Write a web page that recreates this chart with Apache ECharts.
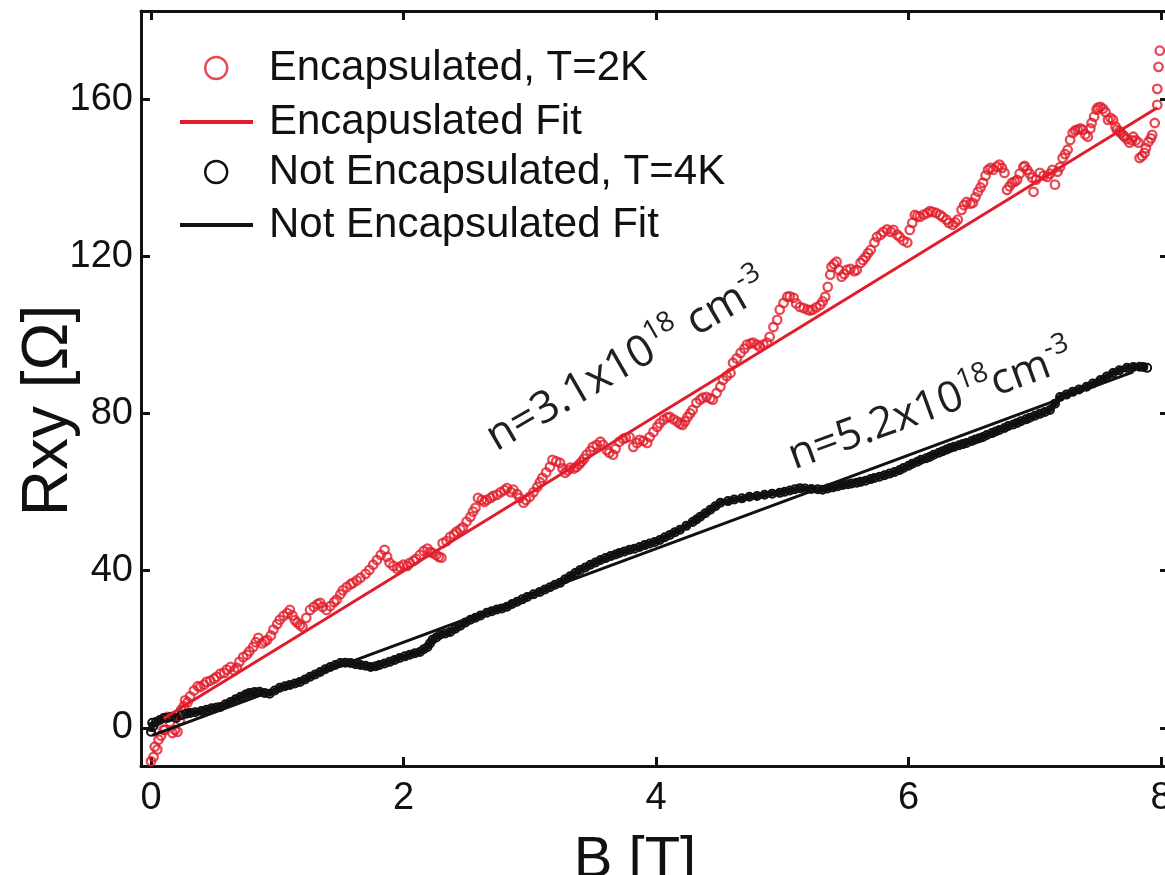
<!DOCTYPE html>
<html><head><meta charset="utf-8">
<script src="https://cdn.jsdelivr.net/npm/echarts@6/dist/echarts.min.js"></script>
<style>html,body{margin:0;padding:0;background:#fff}#c{width:1165px;height:875px}</style>
</head><body><div id="c"></div>
<script>
// ---- data ----
const xTicks = [0, 2, 4, 6, 8];
const yTicks = [0, 40, 80, 120, 160];

const redB = [0.00,0.02,0.03,0.05,0.06,0.08,0.10,0.11,0.13,0.15,0.17,0.19,0.21,0.23,0.24,0.26,0.27,0.29,0.31,0.34,
0.37,0.39,0.42,0.44,0.47,0.50,0.52,0.55,0.58,0.60,0.63,0.66,0.68,0.70,0.73,0.76,0.78,0.81,0.83,0.85,
0.88,0.90,0.92,0.95,0.97,1.00,1.02,1.05,1.08,1.10,1.12,1.14,1.16,1.18,1.20,1.23,1.26,1.29,1.32,1.34,
1.36,1.39,1.42,1.45,1.47,1.50,1.52,1.55,1.58,1.60,1.63,1.66,1.70,1.73,1.76,1.79,1.82,1.85,1.87,1.89,
1.92,1.95,1.97,2.00,2.03,2.05,2.08,2.10,2.13,2.16,2.19,2.21,2.23,2.26,2.28,2.30,2.31,2.34,2.37,2.40,
2.42,2.45,2.47,2.50,2.53,2.55,2.57,2.59,2.62,2.64,2.66,2.69,2.71,2.74,2.77,2.80,2.82,2.85,2.87,2.90,
2.92,2.95,2.97,3.00,3.03,3.06,3.08,3.10,3.13,3.16,3.18,3.21,3.24,3.26,3.28,3.30,3.32,3.35,3.37,3.39,
3.41,3.43,3.45,3.48,3.50,3.53,3.56,3.58,3.61,3.63,3.66,3.68,3.71,3.74,3.76,3.79,3.82,3.85,3.87,3.90,
3.93,3.95,3.98,4.01,4.03,4.06,4.09,4.11,4.14,4.17,4.19,4.21,4.23,4.25,4.27,4.29,4.32,4.35,4.37,4.40,
4.43,4.45,4.48,4.51,4.53,4.56,4.59,4.61,4.64,4.67,4.70,4.72,4.75,4.77,4.80,4.82,4.85,4.88,4.90,4.93,
4.96,4.98,5.01,5.04,5.06,5.09,5.11,5.14,5.17,5.20,5.22,5.24,5.27,5.30,5.32,5.34,5.36,5.38,5.39,5.41,
5.43,5.45,5.47,5.49,5.51,5.54,5.57,5.59,5.62,5.64,5.66,5.68,5.70,5.73,5.75,5.78,5.80,5.83,5.86,5.88,
5.91,5.93,5.96,5.99,6.01,6.03,6.05,6.07,6.09,6.12,6.15,6.17,6.19,6.22,6.25,6.27,6.30,6.32,6.35,6.37,
6.39,6.42,6.44,6.46,6.49,6.51,6.53,6.55,6.57,6.59,6.61,6.63,6.65,6.67,6.70,6.72,6.74,6.76,6.78,6.80,
6.82,6.84,6.86,6.88,6.91,6.92,6.94,6.96,6.98,6.99,7.01,7.04,7.07,7.10,7.12,7.14,7.16,7.18,7.20,7.22,
7.24,7.26,7.28,7.30,7.32,7.34,7.36,7.38,7.40,7.42,7.44,7.45,7.47,7.49,7.50,7.52,7.54,7.56,7.58,7.60,
7.62,7.64,7.65,7.67,7.68,7.70,7.71,7.73,7.75,7.77,7.78,7.80,7.82,7.83,7.85,7.87,7.88,7.90,7.92,7.93,
7.95,7.97,7.97,7.98,7.99];
const redR = [-8.5,-7.4,-4.8,-5.5,-3.0,-2.0,-0.5,-0.5,2.8,1.5,-1.3,-0.5,-1.0,2.0,4.6,5.5,7.0,6.5,8.0,9.5,
10.6,10.4,11.0,11.7,12.0,12.5,13.0,13.8,14.0,14.8,15.5,14.6,15.3,16.8,18.0,18.6,19.5,20.6,21.8,22.9,
21.5,22.0,22.4,23.5,25.0,26.4,27.5,28.5,29.2,30.0,28.6,27.4,26.7,26.2,25.7,28.0,30.0,30.8,31.5,31.8,
30.8,30.0,31.0,32.0,32.6,34.0,35.0,35.8,36.5,36.9,37.5,38.2,39.2,40.2,41.5,42.7,44.0,45.3,43.5,42.0,
41.2,40.5,41.0,41.5,41.2,42.0,42.5,43.0,44.0,45.0,45.6,44.8,44.5,44.0,43.5,43.3,47.0,47.5,48.6,49.2,
49.9,50.5,51.0,52.5,53.7,55.0,56.0,58.5,58.0,57.5,58.0,58.5,59.0,59.3,60.0,60.5,61.0,60.0,60.6,59.5,
58.5,57.3,58.0,58.8,60.0,61.3,62.5,63.6,65.0,66.4,68.2,67.8,67.4,66.0,64.9,65.5,66.2,66.0,66.4,67.0,
67.7,68.5,69.5,70.5,71.5,72.0,72.8,72.0,70.7,70.0,69.5,71.0,72.8,73.5,73.8,74.0,71.5,72.5,73.3,73.0,
72.5,74.0,75.3,76.6,77.5,78.4,79.0,79.1,78.5,77.9,77.4,77.1,78.0,79.1,80.0,80.9,82.7,83.5,84.0,84.2,
83.8,83.5,85.2,86.8,88.5,89.5,90.3,92.9,94.0,95.4,96.5,97.5,97.8,98.0,97.5,97.0,97.5,98.0,99.5,102.0,
103.8,106.4,108.1,109.7,109.8,109.4,108.0,107.1,106.8,106.4,106.2,106.4,107.0,107.6,108.5,109.7,112.2,115.3,117.3,118.0,
118.6,116.5,114.8,115.5,116.5,116.8,116.2,116.5,118.3,119.0,119.8,120.8,121.6,123.5,124.9,125.5,126.2,126.8,126.2,126.7,
125.5,124.9,124.0,123.5,126.7,128.5,130.5,130.2,130.0,130.6,131.0,131.5,131.3,131.0,130.5,130.0,129.3,128.5,128.0,128.6,
129.3,131.8,133.0,133.8,133.4,133.6,135.0,136.4,137.5,138.7,140.5,142.0,142.5,142.0,142.8,143.3,142.5,141.2,136.9,137.8,
138.7,139.0,139.4,141.0,142.7,143.0,142.0,141.0,140.0,136.4,139.5,141.2,140.5,140.2,141.0,142.0,138.2,141.5,142.7,145.0,
146.0,147.1,149.6,151.4,152.0,152.2,152.5,152.2,151.0,150.4,152.5,153.9,155.5,157.3,157.8,158.0,157.5,156.7,154.7,155.2,
154.7,153.0,152.2,151.8,151.4,150.8,150.4,149.8,148.9,149.5,150.4,149.5,148.9,145.0,145.5,146.3,147.5,149.1,150.0,150.9,
153.9,158.5,162.6,168.2,172.3];

const blackB = [0.00,0.01,0.02,0.04,0.07,0.10,0.13,0.16,0.20,0.24,0.28,0.31,0.35,0.40,0.44,0.48,0.52,0.55,0.59,0.63,
0.67,0.71,0.75,0.78,0.82,0.86,0.90,0.94,0.98,1.02,1.06,1.10,1.14,1.18,1.22,1.26,1.30,1.34,1.38,1.42,
1.46,1.50,1.54,1.58,1.62,1.66,1.70,1.74,1.78,1.81,1.85,1.89,1.93,1.97,2.01,2.05,2.09,2.13,2.16,2.19,
2.21,2.23,2.26,2.29,2.33,2.37,2.41,2.45,2.49,2.53,2.57,2.61,2.66,2.70,2.74,2.78,2.82,2.86,2.90,2.94,
2.98,3.03,3.08,3.12,3.16,3.20,3.24,3.28,3.32,3.36,3.40,3.44,3.48,3.52,3.56,3.60,3.64,3.68,3.71,3.75,
3.79,3.83,3.87,3.91,3.95,3.99,4.03,4.07,4.11,4.15,4.19,4.24,4.29,4.32,4.35,4.39,4.43,4.47,4.51,4.57,
4.62,4.68,4.74,4.80,4.86,4.92,4.98,5.02,5.06,5.10,5.14,5.18,5.23,5.28,5.32,5.36,5.40,5.44,5.48,5.52,
5.55,5.59,5.62,5.66,5.70,5.73,5.77,5.81,5.85,5.89,5.93,5.96,6.00,6.03,6.07,6.10,6.14,6.17,6.20,6.24,
6.27,6.30,6.33,6.36,6.40,6.43,6.46,6.50,6.53,6.56,6.59,6.62,6.66,6.69,6.72,6.76,6.79,6.83,6.86,6.89,
6.93,6.96,7.00,7.04,7.08,7.12,7.16,7.20,7.25,7.30,7.35,7.41,7.46,7.52,7.57,7.62,7.67,7.73,7.78,7.83,
7.86,7.89];
const blackR = [-1.0,1.3,0.5,1.5,2.0,2.5,2.5,2.8,2.5,3.2,3.6,3.8,4.0,4.3,4.6,5.0,5.2,5.3,6.0,6.6,
7.3,7.9,8.5,8.9,9.1,9.2,8.9,8.7,9.5,10.2,10.6,10.9,11.3,11.7,12.3,13.0,13.6,14.2,14.9,15.5,
16.0,16.5,16.6,16.5,16.2,16.0,15.8,15.5,15.7,16.0,16.4,16.8,17.3,17.8,18.2,18.6,19.0,19.3,20.0,20.6,
21.5,22.4,23.0,23.7,24.0,24.4,25.2,26.0,26.8,27.5,28.0,28.6,29.3,29.7,30.1,30.4,30.8,31.5,32.1,32.7,
33.3,34.0,34.6,35.2,35.8,36.4,36.9,37.8,38.6,39.4,40.2,40.8,41.5,42.1,42.7,43.2,43.7,44.1,44.5,44.9,
45.3,45.6,46.0,46.5,46.9,47.3,47.8,48.5,49.1,49.8,50.4,51.4,52.4,53.0,53.7,54.6,55.5,56.4,57.3,57.7,
58.1,58.4,58.8,59.0,59.3,59.6,59.8,60.1,60.4,60.7,61.0,60.9,60.8,60.7,60.6,60.9,61.2,61.5,61.8,62.0,
62.2,62.4,62.6,62.9,63.3,63.6,63.9,64.3,64.7,65.1,65.6,66.1,66.7,67.2,67.7,68.2,68.6,69.0,69.5,70.0,
70.4,70.8,71.2,71.5,71.9,72.2,72.5,73.0,73.4,73.7,74.0,74.5,75.0,75.4,75.8,76.3,76.8,77.2,77.6,78.0,
78.5,78.9,79.4,79.9,80.4,80.9,82.5,84.2,84.8,85.5,86.1,86.8,87.6,88.5,89.4,90.3,91.0,91.6,91.8,91.9,
91.8,91.6];

const redFitB = [0.10, 7.97];
const redFitR = [2.4, 157.8];
const blackFitB = [0.01, 7.78];
const blackFitR = [-1.9, 90.6];

const names = ['Encapsulated, T=2K', 'Encapuslated Fit', 'Not Encapsulated, T=4K', 'Not Encapsulated Fit'];

// ---- styles ----
const RED = '#e11d2b';
const BLK = '#111111';
const FONT = 'Liberation Sans';
const pairs = (xs, ys) => xs.map((x, i) => [x, ys[i]]);

const chart = echarts.init(document.getElementById('c'), null, {renderer: 'canvas'});

const axisLineStyle = {color: BLK, width: 3};
const tickStyle = {color: BLK, width: 3};

function legendFor(name, left, cy, icon, h, itemStyle) {
  return {
    data: [{name: name, icon: icon}],
    left: left, top: cy - 25, padding: 0,
    itemWidth: 73, itemHeight: h,
    itemStyle: itemStyle,
    selectedMode: false,
    textStyle: {fontSize: 42, fontFamily: FONT, color: BLK, lineHeight: 50, padding: [0, 0, 0, 11]}
  };
}

const option = {
  animation: false,
  backgroundColor: '#fff',
  grid: {left: 141, top: 11, width: 1028, height: 755, containLabel: false, outerBoundsMode: 'none'},
  legend: [
    legendFor(names[0], 204, 68, 'circle', 22, {color: 'rgba(0,0,0,0)', borderColor: RED, borderWidth: 2.4}),
    legendFor(names[1], 180, 122, 'rect', 4, {color: RED, borderWidth: 0}),
    legendFor(names[2], 204, 172, 'circle', 22, {color: 'rgba(0,0,0,0)', borderColor: BLK, borderWidth: 2.4}),
    legendFor(names[3], 180, 225, 'rect', 4, {color: BLK, borderWidth: 0})
  ],
  xAxis: [{
    type: 'value', position: 'bottom', min: -0.079, max: 8.063,
    axisLine: {onZero: false, lineStyle: axisLineStyle},
    axisTick: {inside: true, length: 9, lineStyle: tickStyle, customValues: xTicks},
    axisLabel: {customValues: xTicks, fontSize: 38, fontFamily: FONT, color: BLK, margin: 14},
    splitLine: {show: false},
    name: 'B [T]', nameLocation: 'middle', nameGap: 66, nameMoveOverlap: false,
    nameTextStyle: {fontSize: 58, fontFamily: FONT, color: BLK, padding: [0, 40, 0, 0]}
  }, {
    type: 'value', position: 'top', min: -0.079, max: 8.063,
    axisLine: {onZero: false, lineStyle: axisLineStyle},
    axisTick: {inside: true, length: 9, lineStyle: tickStyle, customValues: xTicks},
    axisLabel: {show: false}, splitLine: {show: false}
  }],
  yAxis: [{
    type: 'value', position: 'left', min: -9.7, max: 182.4,
    axisLine: {onZero: false, lineStyle: axisLineStyle},
    axisTick: {inside: true, length: 9, lineStyle: tickStyle, customValues: yTicks},
    axisLabel: {customValues: yTicks, fontSize: 38, fontFamily: FONT, color: BLK, margin: 8},
    splitLine: {show: false},
    name: 'Rxy [Ω]', nameLocation: 'middle', nameGap: 60, nameMoveOverlap: false,
    nameTextStyle: {fontSize: 64, fontFamily: FONT, color: BLK, padding: [0, 44, 0, 0]}
  }, {
    type: 'value', position: 'right', min: -9.7, max: 182.4,
    axisLine: {onZero: false, lineStyle: axisLineStyle},
    axisTick: {inside: true, length: 9, lineStyle: tickStyle, customValues: yTicks},
    axisLabel: {show: false}, splitLine: {show: false}
  }],
  series: [{
    name: names[0], type: 'scatter', xAxisIndex: 0, yAxisIndex: 0,
    data: pairs(redB, redR), symbol: 'circle', symbolSize: 8.5,
    itemStyle: {color: 'rgba(0,0,0,0)', borderColor: RED, borderWidth: 2.3}, z: 2
  }, {
    name: names[2], type: 'line', xAxisIndex: 0, yAxisIndex: 0,
    data: pairs(blackB, blackR), symbol: 'circle', symbolSize: 8, showSymbol: true, showAllSymbol: true,
    itemStyle: {color: 'rgba(0,0,0,0)', borderColor: BLK, borderWidth: 2},
    lineStyle: {color: BLK, width: 6}, z: 2
  }, {
    name: names[1], type: 'line', xAxisIndex: 0, yAxisIndex: 0,
    data: pairs(redFitB, redFitR), symbol: 'none',
    itemStyle: {color: RED}, lineStyle: {color: RED, width: 3}, z: 3
  }, {
    name: names[3], type: 'line', xAxisIndex: 0, yAxisIndex: 0,
    data: pairs(blackFitB, blackFitR), symbol: 'none',
    itemStyle: {color: BLK}, lineStyle: {color: BLK, width: 3}, z: 3
  }],
  graphic: [{
    type: 'text', x: 490, y: 441, rotation: 30 * Math.PI / 180, z: 10,
    style: {
      text: '{m|n=3.1x10}{s|18}{m| cm}{s|-3}', align: 'left', verticalAlign: 'middle',
      rich: {
        m: {fontSize: 44, fontFamily: 'Open Sans', fill: '#231f20', color: '#231f20', lineHeight: 56, verticalAlign: 'middle'},
        s: {fontSize: 28, fontFamily: 'Open Sans', fill: '#231f20', color: '#231f20', lineHeight: 28, verticalAlign: 'top'}
      }
    }
  }, {
    type: 'text', x: 790, y: 458, rotation: 20 * Math.PI / 180, z: 10,
    style: {
      text: '{m|n=5.2x10}{s|18}{m|cm}{s|-3}', align: 'left', verticalAlign: 'middle',
      rich: {
        m: {fontSize: 43, fontFamily: 'Open Sans', fill: '#231f20', color: '#231f20', lineHeight: 56, verticalAlign: 'middle'},
        s: {fontSize: 28, fontFamily: 'Open Sans', fill: '#231f20', color: '#231f20', lineHeight: 28, verticalAlign: 'top'}
      }
    }
  }]
};
chart.setOption(option);
</script></body></html>
